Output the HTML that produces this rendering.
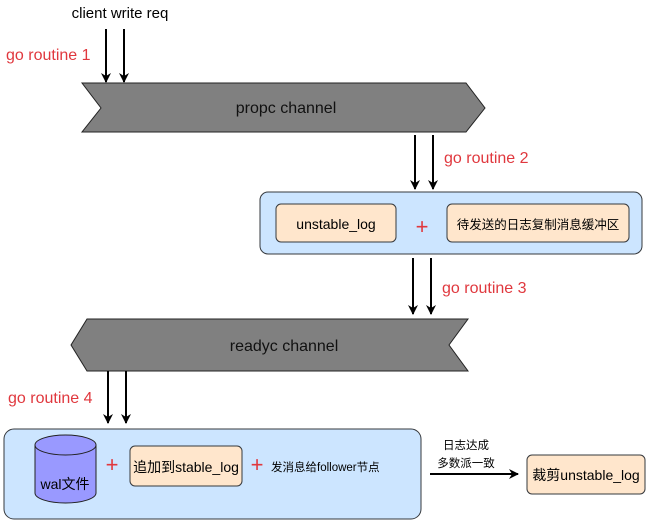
<!DOCTYPE html>
<html><head><meta charset="utf-8"><style>
body{margin:0;background:#fff;}
svg{display:block;font-family:"Liberation Sans","Noto Sans CJK SC",sans-serif;}
</style></head><body>
<svg width="646" height="520" viewBox="0 0 646 520" xmlns="http://www.w3.org/2000/svg">
<defs><marker id="a" markerWidth="10" markerHeight="10" refX="9" refY="5" orient="auto" markerUnits="userSpaceOnUse"><path d="M0,0 L10,5 L0,10 L3,5 z" fill="#000"/></marker></defs>
<text x="120" y="18" font-size="15" text-anchor="middle" fill="#000">client write req</text>
<text x="6" y="60" font-size="16" fill="#e0383e">go routine 1</text>
<line x1="106" y1="29" x2="106" y2="82" stroke="#000" stroke-width="2" marker-end="url(#a)"/>
<line x1="124" y1="29" x2="124" y2="82" stroke="#000" stroke-width="2" marker-end="url(#a)"/>
<polygon points="82,83 466,83 485,108 466,132 82,132 101,108" fill="#808080" stroke="#222" stroke-width="1"/>
<text x="286" y="113" font-size="16" text-anchor="middle" fill="#111">propc channel</text>
<line x1="415" y1="135" x2="415" y2="189" stroke="#000" stroke-width="2" marker-end="url(#a)"/>
<line x1="433" y1="135" x2="433" y2="189" stroke="#000" stroke-width="2" marker-end="url(#a)"/>
<text x="444" y="163" font-size="16" fill="#e0383e">go routine 2</text>
<rect x="260" y="192" width="382" height="62" rx="8" fill="#cce5ff" stroke="#36393d"/>
<rect x="276" y="204" width="120" height="38" rx="5" fill="#ffe6cc" stroke="#36393d"/>
<text x="336" y="229" font-size="14" text-anchor="middle">unstable_log</text>
<text x="422" y="234" font-size="22" text-anchor="middle" fill="#e0383e">+</text>
<rect x="447" y="204" width="182" height="38" rx="5" fill="#ffe6cc" stroke="#36393d"/>
<text x="538" y="229" font-size="12.5" text-anchor="middle">待发送的日志复制消息缓冲区</text>
<line x1="413" y1="258" x2="413" y2="314" stroke="#000" stroke-width="2" marker-end="url(#a)"/>
<line x1="431" y1="258" x2="431" y2="314" stroke="#000" stroke-width="2" marker-end="url(#a)"/>
<text x="442" y="293" font-size="16" fill="#e0383e">go routine 3</text>
<polygon points="87,319 468,319 449,345 468,371 87,371 71,345" fill="#808080" stroke="#222" stroke-width="1"/>
<text x="284" y="351" font-size="16" text-anchor="middle" fill="#111">readyc channel</text>
<line x1="108" y1="371" x2="108" y2="423" stroke="#000" stroke-width="2" marker-end="url(#a)"/>
<line x1="126" y1="371" x2="126" y2="423" stroke="#000" stroke-width="2" marker-end="url(#a)"/>
<text x="8" y="403" font-size="16" fill="#e0383e">go routine 4</text>
<rect x="4" y="429" width="417" height="90" rx="10" fill="#cce5ff" stroke="#36393d"/>
<path d="M35,445 L35,493 A30.5,10 0 0 0 96,493 L96,445" fill="#9999ff" stroke="#222"/>
<ellipse cx="65.5" cy="445" rx="30.5" ry="10" fill="#9999ff" stroke="#222"/>
<text x="65" y="489" font-size="14" text-anchor="middle">wal文件</text>
<text x="112" y="472" font-size="22" text-anchor="middle" fill="#e0383e">+</text>
<rect x="130" y="446" width="112" height="40" rx="5" fill="#ffe6cc" stroke="#36393d"/>
<text x="186" y="472" font-size="14" text-anchor="middle">追加到stable_log</text>
<text x="257" y="472" font-size="22" text-anchor="middle" fill="#e0383e">+</text>
<text x="271" y="471" font-size="11.5">发消息给follower节点</text>
<text x="466" y="449" font-size="11.5" text-anchor="middle">日志达成</text>
<text x="466" y="467" font-size="11.5" text-anchor="middle">多数派一致</text>
<line x1="430" y1="474" x2="518" y2="474" stroke="#000" stroke-width="2" marker-end="url(#a)"/>
<rect x="527" y="455" width="118" height="39" rx="5" fill="#ffe6cc" stroke="#36393d"/>
<text x="586" y="480" font-size="14" text-anchor="middle">裁剪unstable_log</text>
</svg>
</body></html>
